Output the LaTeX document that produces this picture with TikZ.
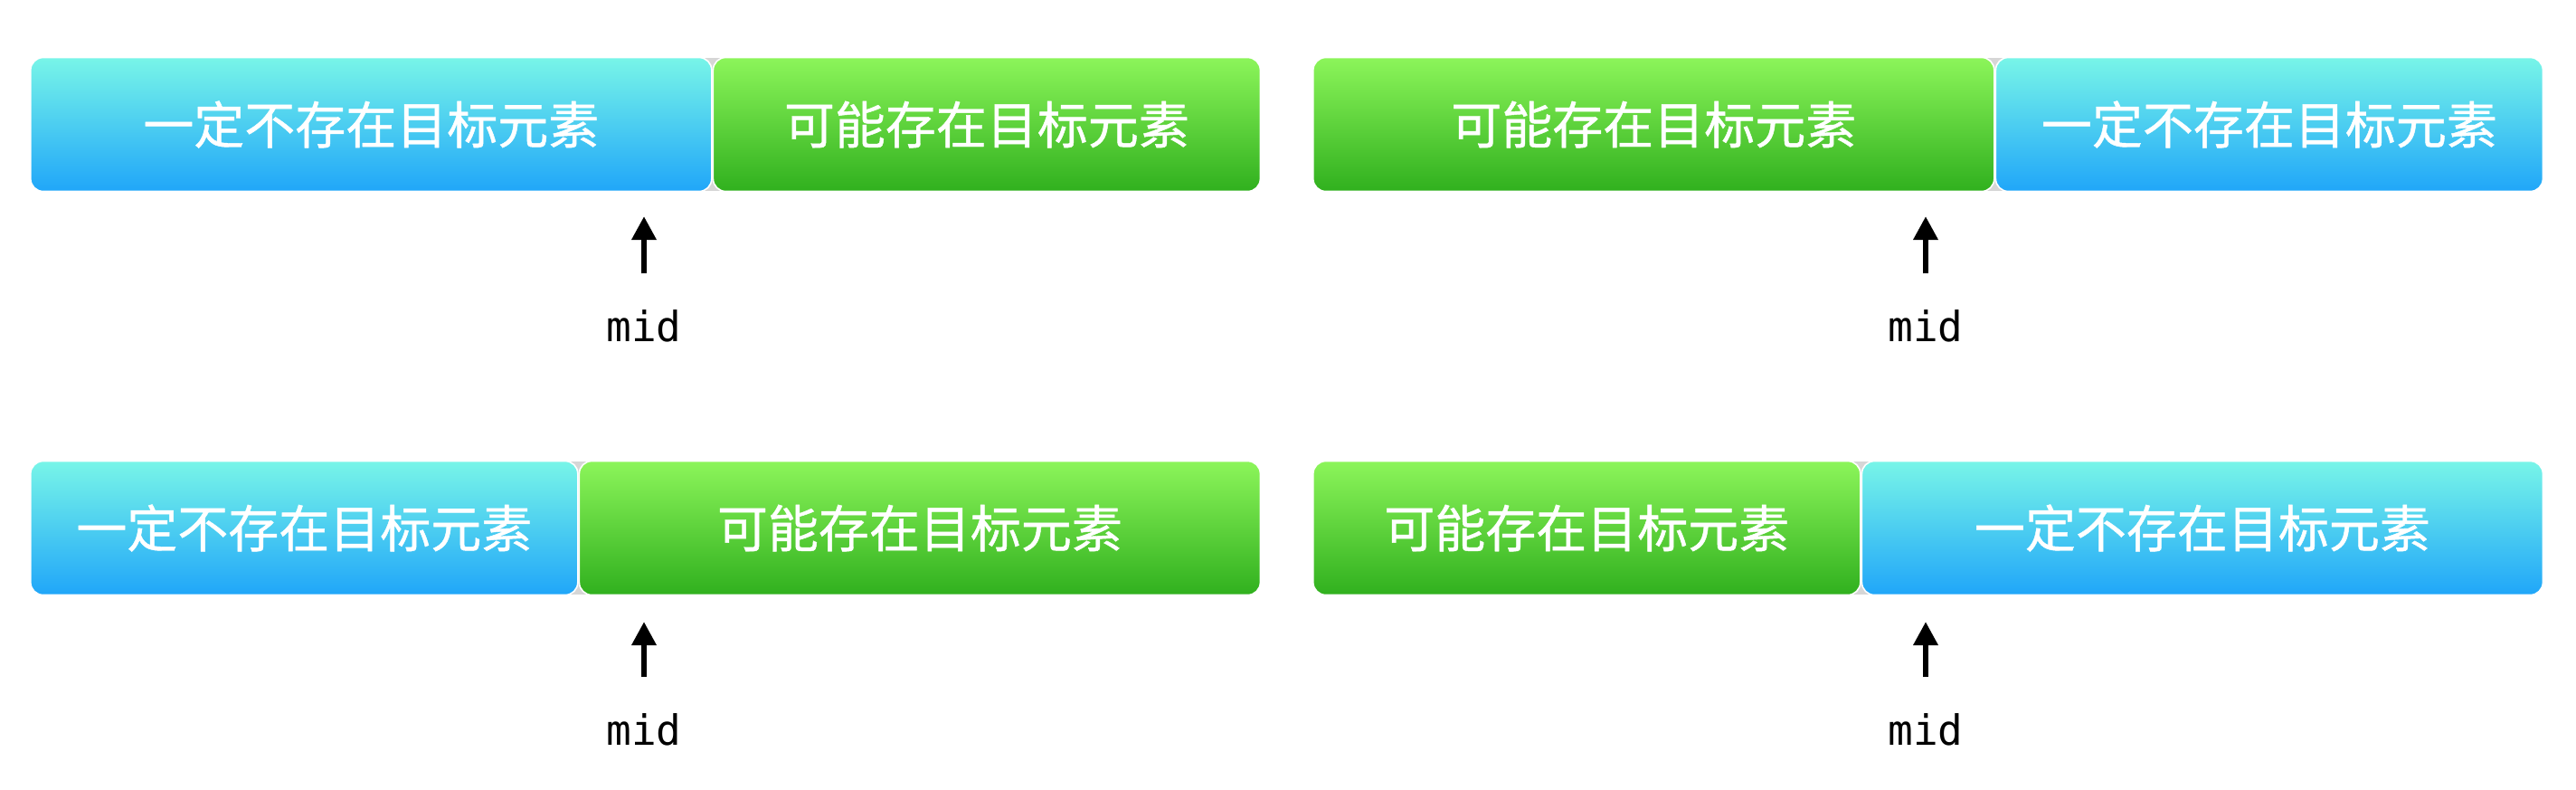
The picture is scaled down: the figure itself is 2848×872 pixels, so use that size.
\documentclass[tikz,border=0pt]{standalone}
\usepackage{fontspec}
\setmonofont{DejaVu Sans Mono}
\newfontfamily\cjk[FakeBold=0.8]{Noto Sans CJK SC}
\usepackage{tikz}
\usetikzlibrary{arrows.meta, positioning}
\definecolor{cyantop}{HTML}{78F5E8}
\definecolor{bluebot}{HTML}{20A6F9}
\definecolor{greentop}{HTML}{8CF55A}
\definecolor{greenbot}{HTML}{30B01E}
\definecolor{joint}{HTML}{D6D6D6}

\begin{document}
\begin{tikzpicture}[x=0.25pt, y=-0.25pt]
\tikzstyle{cell}=[rounded corners=3.5pt, minimum height=37pt, inner sep=0pt, draw=white, line width=0.4pt, text=white, font=\cjk\fontsize{14pt}{14pt}\selectfont]
\tikzstyle{never}=[cell, top color=cyantop, bottom color=bluebot]
\tikzstyle{maybe}=[cell, top color=greentop, bottom color=greenbot]
\tikzstyle{long}=[minimum width=188.25pt]
\tikzstyle{short}=[minimum width=151.25pt]
\tikzstyle{midlabel}=[inner sep=0pt, anchor=base, font=\ttfamily\fontsize{11.5pt}{11.5pt}\selectfont]
\tikzstyle{pointer}=[-{Triangle[width=6.5pt, length=6.5pt]}, line width=1.6pt, shorten <=9.75pt]

\useasboundingbox (0,0) rectangle (2848,872);

% grey behind the joints
\fill[joint] (770,64) rectangle (802,211);
\fill[joint] (2189,64) rectangle (2221,211);
\fill[joint] (621,510) rectangle (653,657);
\fill[joint] (2042,510) rectangle (2074,657);

% top row
\node[never, long, anchor=west] (a1) at (33,137.5) {一定不存在目标元素};
\node[maybe, short, right=0pt of a1] (a2) {可能存在目标元素};
\node[maybe, long, anchor=west] (b1) at (1451,137.5) {可能存在目标元素};
\node[never, short, right=0pt of b1] (b2) {一定不存在目标元素};

% bottom row
\node[never, short, anchor=west] (c1) at (33,583.5) {一定不存在目标元素};
\node[maybe, long, right=0pt of c1] (c2) {可能存在目标元素};
\node[maybe, short, anchor=west] (d1) at (1451,583.5) {可能存在目标元素};
\node[never, long, right=0pt of d1] (d2) {一定不存在目标元素};

% mid pointers
\node[midlabel] (ma) at (712,377) {mid};
\node[midlabel] (mb) at (2129,377) {mid};
\node[midlabel] (mc) at (712,823) {mid};
\node[midlabel] (md) at (2129,823) {mid};
\coordinate (ta) at (712,239);
\coordinate (tb) at (2129,239);
\coordinate (tc) at (712,687);
\coordinate (td) at (2129,687);

\draw[pointer] (ma) -- (ta);
\draw[pointer] (mb) -- (tb);
\draw[pointer] (mc) -- (tc);
\draw[pointer] (md) -- (td);
\end{tikzpicture}
\end{document}
